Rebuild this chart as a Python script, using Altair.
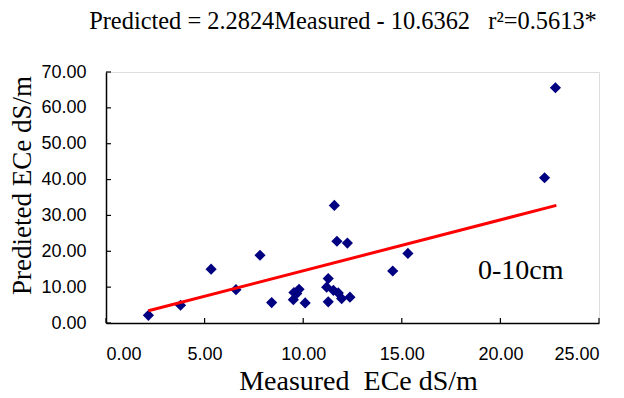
import altair as alt
import pandas as pd

# Measured vs predicted ECe (0-10 cm)
measured = [2.15, 3.78, 5.33, 6.59, 7.81, 8.40, 9.50, 9.53, 9.67, 9.79, 10.10,
            11.19, 11.27, 11.27, 11.53, 11.58, 11.71, 11.78, 11.95, 12.24, 12.37,
            14.54, 15.31, 22.24, 22.79]
predicted = [2.15, 4.95, 15.0, 9.3, 18.9, 5.7, 6.5, 8.5, 8.2, 9.4, 5.6,
             10.0, 12.4, 5.9, 9.1, 32.8, 22.8, 8.4, 6.8, 22.3, 7.2,
             14.5, 19.4, 40.5, 65.6]

# Fitted line end points (as drawn)
line_x = [2.15, 22.84]
line_y = [3.4, 32.8]

x_ticks = [0, 5, 10, 15, 20, 25]
y_ticks = [0, 10, 20, 30, 40, 50, 60, 70]

title_text = "Predicted = 2.2824Measured - 10.6362\u00a0\u00a0\u00a0r\u00b2=0.5613*"
depth_label = "0-10cm"
x_title = "Measured\u00a0\u00a0ECe dS/m"
y_title = "Predieted ECe dS/m"

SERIF = "Liberation Serif, Times New Roman, DejaVu Serif, serif"
NARROW = "Liberation Sans Narrow, Arial Narrow, Liberation Sans, sans-serif"

pts = pd.DataFrame({"m": measured, "p": predicted})
ln = pd.DataFrame({"m": line_x, "p": line_y})
xt = pd.DataFrame({"m": x_ticks})
yt = pd.DataFrame({"p": y_ticks})
one = pd.DataFrame({"t": [depth_label], "h": [title_text]})

W, H = 493, 251

xscale = alt.Scale(domain=[0, 25], nice=False, zero=False)
yscale = alt.Scale(domain=[0, 70], nice=False, zero=False)

xaxis = alt.Axis(
    values=x_ticks, format=".2f", ticks=False, tickSize=0, grid=False,
    labelOverlap=False,
    domainColor="black", domainWidth=1.5,
    labelFont=NARROW, labelFontSize=18, labelColor="black",
    labelPadding=22,
    title=x_title, titleFont=SERIF, titleFontSize=28,
    titleFontWeight="normal", titleColor="black",
    titleX=252, titleY=66, titleAlign="center", titleBaseline="alphabetic",
)
yaxis = alt.Axis(
    values=y_ticks, format=".2f", ticks=False, tickSize=0, grid=False,
    labelOverlap=False,
    domainColor="black", domainWidth=1.5,
    labelFont=NARROW, labelFontSize=18, labelColor="black",
    labelPadding=20,
    title=y_title, titleFont=SERIF, titleFontSize=27,
    titleFontWeight="normal", titleColor="black",
    titleX=-76, titleY=113, titleAlign="center", titleBaseline="alphabetic",
    titleAngle=-90,
)

X = alt.X("m:Q", scale=xscale, axis=xaxis, title=x_title)
Y = alt.Y("p:Q", scale=yscale, axis=yaxis, title=y_title)

points = alt.Chart(pts).mark_point(
    shape="diamond", filled=True, size=125, color="#000080", opacity=1
).encode(x=X, y=Y)

fit = alt.Chart(ln).mark_line(color="#ff0000", strokeWidth=3).encode(x=X, y=Y)

yticks = alt.Chart(yt).mark_rule(color="black", strokeWidth=1.2).encode(
    y=Y, x=alt.value(0), x2=alt.value(5),
)
xticks = alt.Chart(xt).mark_rule(color="black", strokeWidth=1.2).encode(
    x=X, y=alt.value(H), y2=alt.value(H - 5),
)

label = alt.Chart(one).mark_text(
    font=SERIF, fontSize=28, align="left", baseline="alphabetic",
    color="black",
).encode(
    text="t:N", x=alt.value(372), y=alt.value(207),
)

title = alt.Chart(one).mark_text(
    font=SERIF, fontSize=24.4, align="center", baseline="alphabetic",
    color="black",
).encode(
    text="h:N", x=alt.value(237), y=alt.value(-43),
)

chart = alt.layer(points, fit, yticks, xticks, label, title).properties(
    width=W, height=H,
    autosize=alt.AutoSizeParams(type="none"),
    padding={"left": 98, "top": 64, "right": 17, "bottom": 74},
).configure_view(
    stroke="#8c8c8c", strokeWidth=1.5,
).configure(background="white")

chart.save("out.html", embed_options={"renderer": "svg", "actions": False})
